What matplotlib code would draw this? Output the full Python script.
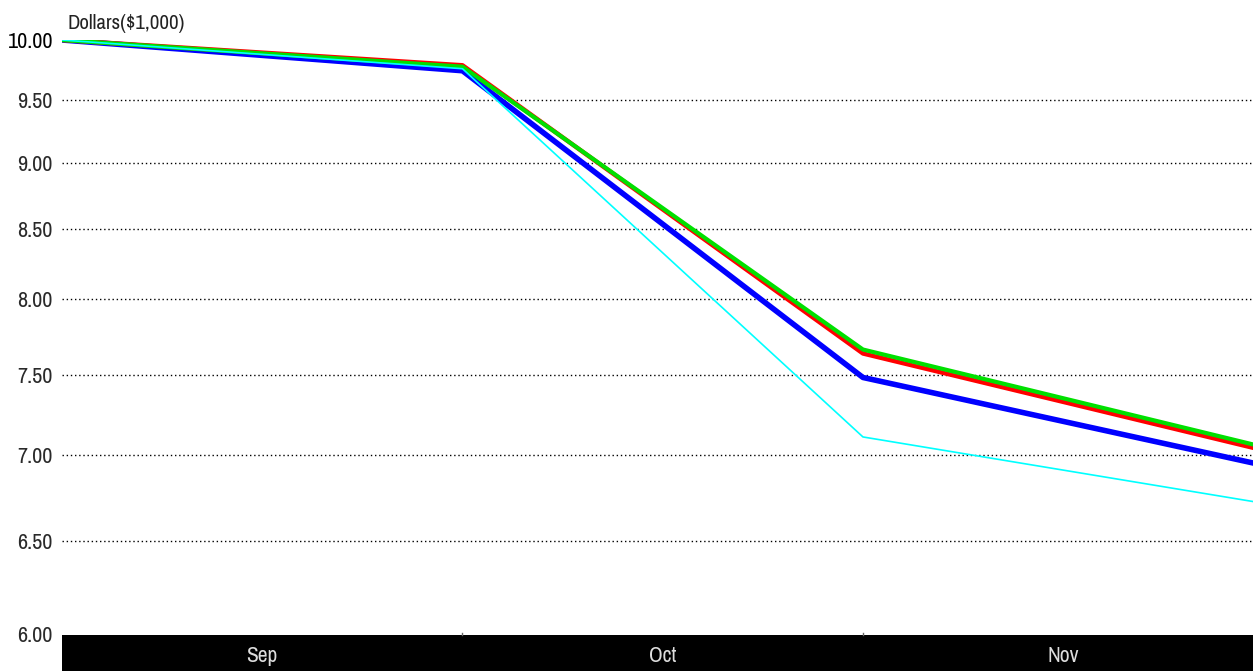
import numpy as np
import matplotlib
matplotlib.use("Agg")
import matplotlib.pyplot as plt
from matplotlib.ticker import FixedLocator, FixedFormatter, NullLocator

plt.rcParams['font.family'] = ['Archivo Narrow', 'DejaVu Sans']

# Growth of $10,000 (values in $1,000), month-end points
months = ["Sep", "Oct", "Nov"]
points = [0, 1, 2, 3]
green_vals = [10.00, 9.773, 7.663, 7.047]
red_vals = [10.00, 9.785, 7.637, 7.027]
blue_vals = [10.00, 9.739, 7.481, 6.937]
cyan_vals = [10.00, 9.756, 7.108, 6.714]

y_ticks = [6.0, 6.5, 7.0, 7.5, 8.0, 8.5, 9.0, 9.5, 10.0]
y_labels = ["6.00", "6.50", "7.00", "7.50", "8.00", "8.50", "9.00", "9.50", "10.00"]

W, H = 1253, 671
x_right = 2.974  # the last month runs slightly past the right edge

fig = plt.figure(figsize=(W / 100, H / 100), dpi=100)
ax = fig.add_axes([62 / W, 37 / H, 1 - 62 / W, (634 - 40) / H])

ax.set_yscale('log')
ax.set_ylim(6.0, 10.0)
ax.set_xlim(0, x_right)

for v in y_ticks[1:-1]:
    ax.axhline(v, color='black', lw=1.0, ls=(0, (1, 2)), zorder=1)

ax.plot(points, blue_vals, color='#0000ff', lw=4.0, zorder=3)
ax.plot(points, red_vals, color='#ff0000', lw=3.2, zorder=4)
ax.plot(points, green_vals, color='#00e000', lw=3.0, zorder=5)
ax.plot(points, cyan_vals, color='#00ffff', lw=1.2, zorder=6)

ax.yaxis.set_major_locator(FixedLocator(y_ticks))
ax.yaxis.set_major_formatter(FixedFormatter(y_labels))
ax.yaxis.set_minor_locator(NullLocator())
ax.tick_params(axis='y', length=0, pad=6.5, labelsize=16, colors='#2a2a2a')
for lbl in ax.get_yticklabels():
    if lbl.get_text() == "10.00":
        lbl.set_color('black')
ax.set_xticks([])
for s in ax.spines.values():
    s.set_visible(False)
ax.patch.set_alpha(0)

ax.text(0.005, 1.012, "Dollars($1,000)", transform=ax.transAxes, fontsize=15,
        color='#222222', ha='left', va='bottom')

# Month band along the bottom
band = fig.add_axes([62 / W, 0, 1 - 62 / W, 36 / H])
band.set_facecolor('black')
band.set_xlim(0, x_right)
band.set_ylim(0, 1)
band.set_xticks([])
band.set_yticks([])
for s in band.spines.values():
    s.set_visible(False)
for i, m in enumerate(months):
    band.text(i + 0.5, 0.42, m, color='#dddddd', fontsize=15.5, ha='center', va='center')
for b in [1, 2]:
    band.plot([b, b], [1.0, 1.06], color='#666666', lw=1.0, clip_on=False)

fig.savefig("out.png", dpi=100)
